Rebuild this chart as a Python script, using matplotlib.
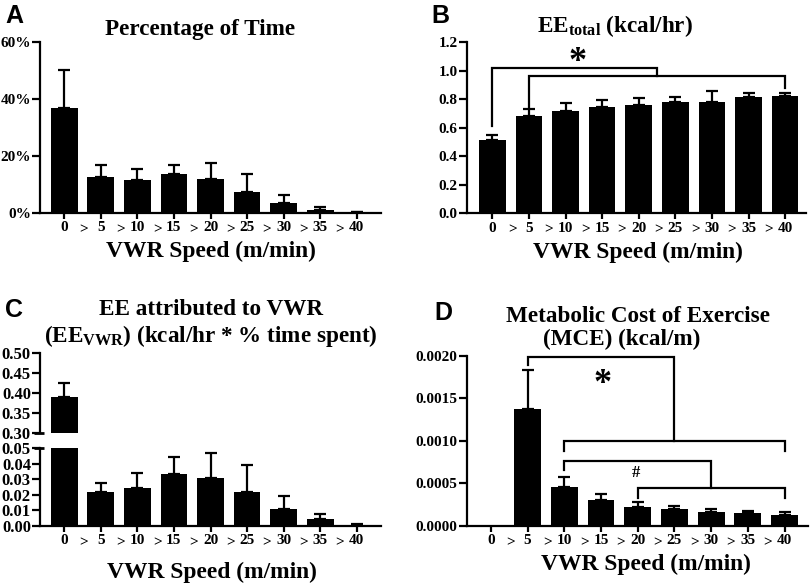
# Figura de 4 paneles: tiempo, gasto energetico y costo metabolico por velocidad
import matplotlib
matplotlib.use('Agg')
import matplotlib.pyplot as plt
import numpy as np
from matplotlib.ticker import PercentFormatter, FormatStrFormatter

plt.rcParams['font.family'] = 'Liberation Serif'
plt.rcParams['font.weight'] = 'bold'
plt.rcParams['mathtext.fontset'] = 'custom'
plt.rcParams['mathtext.rm'] = 'Liberation Serif:bold'
plt.rcParams['mathtext.it'] = 'Liberation Serif:bold'
plt.rcParams['mathtext.bf'] = 'Liberation Serif:bold'

# datos
velocidades = ['0', '5', '10', '15', '20', '25', '30', '35', '40']

tiempo_pct = [36.7, 12.7, 11.6, 13.7, 11.8, 7.4, 3.4, 1.0, 0.2]
tiempo_sem = [13.5, 4.1, 3.7, 3.2, 5.6, 6.2, 2.8, 1.2, 0.1]

ee_total = [0.514, 0.683, 0.720, 0.744, 0.758, 0.779, 0.779, 0.814, 0.821]
ee_total_sem = [0.036, 0.049, 0.052, 0.049, 0.049, 0.035, 0.081, 0.028, 0.023]

ee_vwr = [0.390, 0.0217, 0.0247, 0.0333, 0.0311, 0.0217, 0.0107, 0.0047, 0.0008]
ee_vwr_sem = [0.035, 0.0062, 0.0093, 0.0109, 0.0161, 0.0176, 0.0088, 0.0032, 0.0004]

mce = [0.0, 0.00137, 0.00046, 0.000305, 0.000227, 0.000200, 0.000160, 0.000153, 0.000130]
mce_sem = [0.0, 0.00046, 0.00011, 0.00007, 0.00005, 0.000035, 0.00004, 0.000027, 0.000038]

W, H = 810, 583
fig = plt.figure(figsize=(8.1, 5.83), dpi=100)
LW = 1.6


def caja(x0, x1, y0, y1):
    # coordenadas en pixeles -> rectangulo de ejes
    return [x0 / W, 1 - y1 / H, (x1 - x0) / W, (y1 - y0) / H]


def texto(x, y, s, **kw):
    fig.text(x / W, 1 - y / H, s, **kw)


def estilo(ax, xlim, ysize=11):
    for s in ['top', 'right']:
        ax.spines[s].set_visible(False)
    for s in ['left', 'bottom']:
        ax.spines[s].set_linewidth(LW)
    ax.tick_params(axis='x', width=LW, length=4, labelsize=11, pad=2)
    ax.tick_params(axis='y', width=LW, length=5.5, labelsize=ysize, pad=1)
    ax.set_xlim(xlim)


def barras(ax, vals, sem):
    x = np.arange(len(vals))
    v = np.array(vals)
    e = np.array(sem)
    ax.bar(x, v, width=0.73, color='black', zorder=2)
    m = e > 0
    ax.errorbar(x[m], v[m], yerr=[np.zeros(m.sum()), e[m]], fmt='none',
                ecolor='black', elinewidth=LW, capsize=4.5, capthick=LW, zorder=1)


def etiquetas_x(ax):
    ax.set_xticks(range(len(velocidades)))
    ax.set_xticklabels(velocidades)
    for i in range(1, len(velocidades)):
        ax.annotate('>', xy=(i - 0.46, 0), xycoords=ax.get_xaxis_transform(),
                    xytext=(0, -12), textcoords='offset points',
                    ha='center', va='center', fontsize=11)


def corchete(ax, x1, x2, y, y1, y2):
    ax.plot([x1, x1, x2, x2], [y1, y, y, y2], color='black', lw=LW,
            clip_on=False, solid_joinstyle='miter', zorder=4)


# ---- A ----
axA = fig.add_axes(caja(40, 381, 42, 213))
barras(axA, tiempo_pct, tiempo_sem)
estilo(axA, (-0.66, 8.66))
axA.set_ylim(0, 60)
axA.set_yticks([0, 20, 40, 60])
axA.yaxis.set_major_formatter(PercentFormatter(100, decimals=0))
etiquetas_x(axA)

# ---- B ----
axB = fig.add_axes(caja(466.7, 806, 42.3, 213.3))
barras(axB, ee_total, ee_total_sem)
estilo(axB, (-0.70, 8.57))
axB.set_ylim(0, 1.2)
axB.set_yticks(np.arange(0, 1.21, 0.2))
axB.yaxis.set_major_formatter(FormatStrFormatter('%.1f'))
etiquetas_x(axB)
corchete(axB, 0, 4.5, 1.018, 0.61, 0.963)
corchete(axB, 1, 8, 0.963, 0.745, 0.877)
axB.text(2.34, 1.06, '*', fontsize=26, ha='center', va='center')

# ---- C (eje cortado) ----
axC1 = fig.add_axes(caja(40, 381, 353.3, 433.3))
axC2 = fig.add_axes(caja(40, 381, 448.3, 526))
for ax in (axC1, axC2):
    barras(ax, ee_vwr, ee_vwr_sem)
    estilo(ax, (-0.66, 8.66), ysize=12)
axC1.set_ylim(0.30, 0.50)
axC1.set_yticks([0.30, 0.35, 0.40, 0.45, 0.50])
axC1.yaxis.set_major_formatter(FormatStrFormatter('%.2f'))
axC1.spines['bottom'].set_visible(False)
axC1.set_xticks([])
axC2.set_ylim(0, 0.05)
axC2.set_yticks(np.arange(0, 0.051, 0.01))
axC2.yaxis.set_major_formatter(FormatStrFormatter('%.2f'))
etiquetas_x(axC2)
axC1.plot([-6 / 341, 4 / 341], [0, 0], transform=axC1.transAxes,
          color='black', lw=2, clip_on=False, solid_capstyle='butt')
axC2.plot([-6 / 341, 4 / 341], [1, 1], transform=axC2.transAxes,
          color='black', lw=2, clip_on=False, solid_capstyle='butt')

# ---- D ----
axD = fig.add_axes(caja(466.7, 808, 355.7, 526))
barras(axD, mce, mce_sem)
estilo(axD, (-0.66, 8.64))
axD.set_ylim(0, 0.002)
axD.set_yticks([0, 0.0005, 0.0010, 0.0015, 0.0020])
axD.yaxis.set_major_formatter(FormatStrFormatter('%.4f'))
etiquetas_x(axD)
corchete(axD, 1, 5, 0.00198, 0.00189, 0.001)
corchete(axD, 2, 8, 0.001, 0.00088, 0.00088)
corchete(axD, 2, 6, 0.000767, 0.000658, 0.000443)
corchete(axD, 4, 8, 0.000443, 0.000325, 0.000325)
axD.text(3.03, 0.00166, '*', fontsize=26, ha='center', va='center')
axD.text(3.95, 0.00062, '#', fontsize=12, ha='center', va='center')

# ---- titulos y rotulos ----
TS = 16.7
XS = 16.9
texto(200, 34.5, 'Percentage of Time', fontsize=TS, ha='center', va='baseline')
texto(615, 31.7, r'EE$_{\mathrm{total}}$ (kcal/hr)', fontsize=TS, ha='center', va='baseline')
texto(211, 315, 'EE attributed to VWR', fontsize=TS, ha='center', va='baseline')
texto(211, 341.7, r'(EE$_{\mathrm{VWR}}$) (kcal/hr * % time spent)', fontsize=TS, ha='center', va='baseline')
texto(638, 321.7, 'Metabolic Cost of Exercise', fontsize=TS, ha='center', va='baseline')
texto(622, 345, '(MCE) (kcal/m)', fontsize=TS, ha='center', va='baseline')

texto(211, 256.7, 'VWR Speed (m/min)', fontsize=XS, ha='center', va='baseline')
texto(638, 258, 'VWR Speed (m/min)', fontsize=XS, ha='center', va='baseline')
texto(212, 578, 'VWR Speed (m/min)', fontsize=XS, ha='center', va='baseline')
texto(646, 570, 'VWR Speed (m/min)', fontsize=XS, ha='center', va='baseline')

for letra, x, y in [('A', 5, 23), ('B', 431.7, 23), ('C', 5, 316.7), ('D', 434, 320)]:
    texto(x, y, letra, fontsize=18, family='Liberation Sans', weight='bold',
          ha='left', va='baseline')

fig.savefig('out.png', dpi=100)
